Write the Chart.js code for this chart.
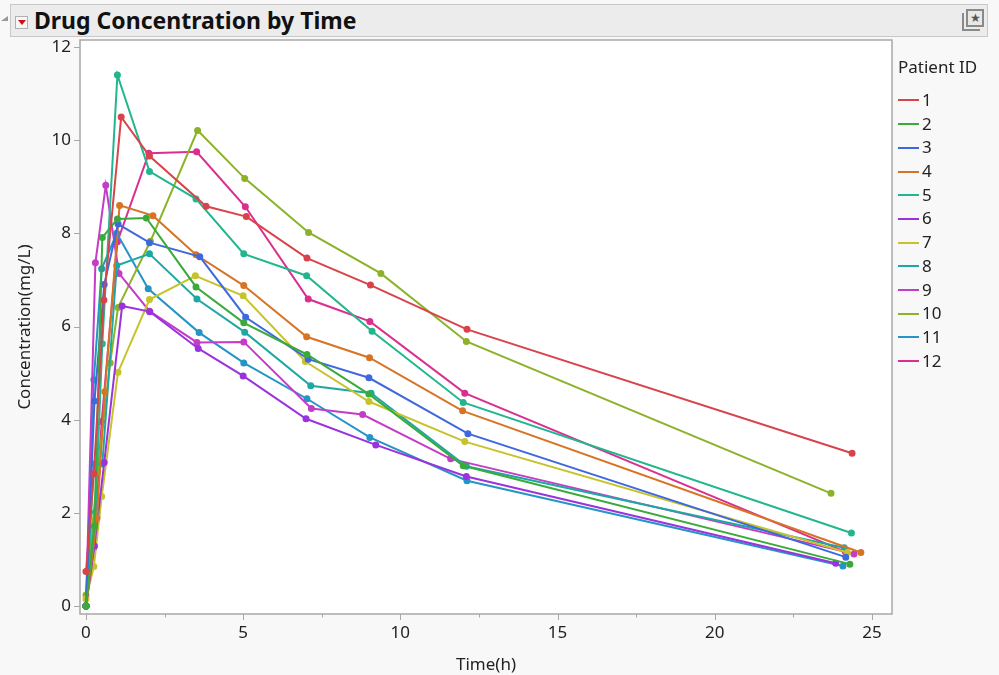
<!DOCTYPE html>
<html lang="en">
<head>
    <meta charset="UTF-8">
    <title>Drug Concentration by Time</title>
    <script src="https://cdn.jsdelivr.net/npm/chart.js"></script>
    <style>
        body {
            margin: 0;
            width: 999px;
            height: 675px;
            background-color: #f8f8f8;
            font-family: "Noto Sans", sans-serif;
            overflow: hidden;
            position: relative;
        }

        #title-bar {
            position: absolute;
            left: 10px;
            top: 4px;
            width: 978px;
            height: 33px;
            background-color: #ececec;
            border: 1px solid #c8c8c8;
            box-sizing: border-box;
        }

        #title-bar .arrow {
            position: absolute;
            left: 4px;
            top: 11px;
            width: 13px;
            height: 13px;
            background: #f6f6f6;
            border: 1px solid #b0b0b0;
            box-sizing: border-box;
        }

        #title-bar .arrow::after {
            content: "";
            position: absolute;
            left: 2px;
            top: 3px;
            border-left: 4px solid transparent;
            border-right: 4px solid transparent;
            border-top: 5px solid #d0101a;
        }

        #title-bar h1 {
            position: absolute;
            left: 23px;
            top: 0;
            margin: 0;
            font-size: 23px;
            line-height: 31px;
            font-weight: bold;
            color: #111;
        }

        #title-bar .star {
            position: absolute;
            right: 3px;
            top: 4px;
            width: 18px;
            height: 18px;
            border: 2px solid #8a8a8a;
            box-sizing: border-box;
            background: #e8e8e8;
            color: #555;
            font-size: 12px;
            line-height: 14px;
            text-align: center;
        }

        #title-bar .star-back {
            position: absolute;
            right: 7px;
            top: 8px;
            width: 18px;
            height: 18px;
            border-left: 2px solid #8a8a8a;
            border-bottom: 2px solid #8a8a8a;
            box-sizing: border-box;
        }

        .disclosure {
            position: absolute;
            left: 1px;
            top: 16px;
            border-top: 5px solid transparent;
            border-right: 7px solid #999;
        }

        #chart-wrap {
            position: absolute;
            left: 0;
            top: 0;
            width: 999px;
            height: 675px;
        }

        #legend {
            position: absolute;
            left: 898px;
            top: 54px;
            color: #222;
            font-size: 17px;
        }

        #legend .head {
            height: 26px;
            line-height: 26px;
            margin-bottom: 8px;
        }

        #legend .item {
            height: 23.7px;
            line-height: 23.7px;
            white-space: nowrap;
        }

        #legend .swatch {
            display: inline-block;
            width: 21px;
            height: 2px;
            vertical-align: middle;
            margin-right: 3px;
            position: relative;
            top: -1px;
        }
    </style>
</head>
<body>
    <div id="chart-wrap"><canvas id="conc-chart" width="999" height="675"></canvas></div>

    <div class="disclosure"></div>
    <div id="title-bar">
        <div class="arrow"></div>
        <h1>Drug Concentration by Time</h1>
        <div class="star-back"></div>
        <div class="star">★</div>
    </div>

    <div id="legend">
        <div class="head">Patient ID</div>
    </div>

    <script>
        // Patient IDs and their sampling data
        const patientIds = ["1", "2", "3", "4", "5", "6", "7", "8", "9", "10", "11", "12"];

        const times = [
            [0, 0.25, 0.57, 1.12, 2.02, 3.82, 5.10, 7.03, 9.05, 12.12, 24.37],
            [0, 0.27, 0.52, 1.00, 1.92, 3.50, 5.02, 7.03, 9.00, 12.00, 24.30],
            [0, 0.27, 0.58, 1.02, 2.02, 3.62, 5.08, 7.07, 9.00, 12.15, 24.17],
            [0, 0.35, 0.60, 1.07, 2.13, 3.50, 5.02, 7.02, 9.02, 11.98, 24.65],
            [0, 0.30, 0.52, 1.00, 2.02, 3.50, 5.02, 7.02, 9.10, 12.00, 24.35],
            [0, 0.27, 0.58, 1.15, 2.03, 3.57, 5.00, 7.00, 9.22, 12.10, 23.85],
            [0, 0.25, 0.50, 1.02, 2.02, 3.48, 5.00, 6.98, 9.00, 12.05, 24.22],
            [0, 0.25, 0.52, 0.98, 2.02, 3.53, 5.05, 7.15, 9.07, 12.10, 24.12],
            [0, 0.30, 0.63, 1.05, 2.02, 3.53, 5.02, 7.17, 8.80, 11.60, 24.43],
            [0, 0.37, 0.77, 1.02, 2.05, 3.55, 5.05, 7.08, 9.38, 12.10, 23.70],
            [0, 0.25, 0.50, 0.98, 1.98, 3.60, 5.02, 7.03, 9.03, 12.12, 24.08],
            [0, 0.25, 0.50, 1.00, 2.00, 3.52, 5.07, 7.07, 9.03, 12.05, 24.15]
        ];

        const concentrations = [
            [0.74, 2.84, 6.57, 10.50, 9.66, 8.58, 8.36, 7.47, 6.89, 5.94, 3.28],
            [0.00, 1.72, 7.91, 8.31, 8.33, 6.85, 6.08, 5.40, 4.55, 3.01, 0.90],
            [0.00, 4.40, 6.90, 8.20, 7.80, 7.50, 6.20, 5.30, 4.90, 3.70, 1.05],
            [0.00, 1.89, 4.60, 8.60, 8.38, 7.54, 6.88, 5.78, 5.33, 4.19, 1.15],
            [0.00, 2.02, 5.63, 11.40, 9.33, 8.74, 7.56, 7.09, 5.90, 4.37, 1.57],
            [0.00, 1.29, 3.08, 6.44, 6.32, 5.53, 4.94, 4.02, 3.46, 2.78, 0.92],
            [0.15, 0.85, 2.35, 5.02, 6.58, 7.09, 6.66, 5.25, 4.39, 3.53, 1.15],
            [0.00, 3.05, 3.05, 7.31, 7.56, 6.59, 5.88, 4.73, 4.57, 3.00, 1.25],
            [0.00, 7.37, 9.03, 7.14, 6.33, 5.66, 5.67, 4.24, 4.11, 3.16, 1.12],
            [0.24, 2.89, 5.22, 6.41, 7.83, 10.21, 9.18, 8.02, 7.14, 5.68, 2.42],
            [0.00, 4.86, 7.24, 8.00, 6.81, 5.87, 5.22, 4.45, 3.62, 2.69, 0.86],
            [0.00, 1.25, 3.96, 7.82, 9.72, 9.75, 8.57, 6.59, 6.11, 4.57, 1.17]
        ];

        const xTicks = [0, 5, 10, 15, 20, 25];
        const yTicks = [0, 2, 4, 6, 8, 10, 12];

        const colors = [
            "#d9434b", "#3aaa3a", "#3f68de", "#d77424", "#22b68e", "#9a33dc",
            "#c8c22c", "#1fa8a3", "#c43cc8", "#8bb229", "#2594c6", "#da2f90"
        ];

        // Plot box geometry (matches the reference frame)
        const box = { left: 80, top: 40, right: 892, bottom: 614 };

        // Plot frame, white background and tick marks
        const framePlugin = {
            id: "frame",
            beforeDraw(chart) {
                const { ctx } = chart;
                ctx.save();
                ctx.fillStyle = "#ffffff";
                ctx.fillRect(box.left, box.top, box.right - box.left, box.bottom - box.top);
                ctx.restore();
            },
            afterDraw(chart) {
                const { ctx } = chart;
                const xs = chart.scales.x;
                const ys = chart.scales.y;
                ctx.save();
                ctx.strokeStyle = "#a8a8a8";
                ctx.lineWidth = 1.5;
                ctx.strokeRect(box.left, box.top, box.right - box.left, box.bottom - box.top);
                ctx.lineWidth = 1;
                ctx.beginPath();
                xs.ticks.forEach(t => {
                    const px = Math.round(xs.getPixelForValue(t.value)) + 0.5;
                    const len = t.value % 5 === 0 ? 6 : 3.5;
                    ctx.moveTo(px, box.bottom);
                    ctx.lineTo(px, box.bottom + len);
                });
                ys.ticks.forEach(t => {
                    const py = Math.round(ys.getPixelForValue(t.value)) + 0.5;
                    ctx.moveTo(box.left, py);
                    ctx.lineTo(box.left - 6, py);
                });
                ctx.stroke();
                ctx.restore();
            }
        };

        const datasets = patientIds.map((id, i) => ({
            label: id,
            data: times[i].map((t, j) => ({ x: t, y: concentrations[i][j] })),
            borderColor: colors[i],
            backgroundColor: colors[i],
            borderWidth: 2,
            pointRadius: 2.5,
            pointHoverRadius: 2.5,
            tension: 0
        }));

        new Chart(document.getElementById("conc-chart"), {
            type: "line",
            data: { datasets },
            plugins: [framePlugin],
            options: {
                responsive: false,
                animation: false,
                layout: {
                    padding: { left: 0, top: box.top, right: 999 - box.right, bottom: 0 }
                },
                plugins: {
                    legend: { display: false },
                    tooltip: { enabled: false }
                },
                scales: {
                    x: {
                        type: "linear",
                        min: -0.19,
                        max: 25.64,
                        afterFit(scale) { scale.height = 675 - box.bottom; },
                        ticks: {
                            stepSize: 2.5,
                            includeBounds: false,
                            autoSkip: false,
                            maxRotation: 0,
                            padding: 9,
                            color: "#222",
                            font: { family: "Noto Sans", size: 17 },
                            callback: v => (xTicks.includes(v) ? v : "")
                        },
                        grid: { display: false, drawTicks: false },
                        border: { display: false },
                        title: {
                            display: true,
                            text: "Time(h)",
                            color: "#222",
                            font: { family: "Noto Sans", size: 17 },
                            padding: { top: 0, bottom: 0 }
                        }
                    },
                    y: {
                        type: "linear",
                        min: -0.17,
                        max: 12.15,
                        afterFit(scale) { scale.width = box.left; },
                        ticks: {
                            stepSize: 2,
                            includeBounds: false,
                            autoSkip: false,
                            padding: 9,
                            color: "#222",
                            font: { family: "Noto Sans", size: 17 },
                            callback: v => (yTicks.includes(v) ? v : "")
                        },
                        grid: { display: false, drawTicks: false },
                        border: { display: false },
                        title: {
                            display: true,
                            text: "Concentration(mg/L)",
                            color: "#222",
                            font: { family: "Noto Sans", size: 17 },
                            padding: { top: 15, bottom: 0 }
                        }
                    }
                }
            }
        });

        // Build the legend from the same arrays
        const legend = document.getElementById("legend");
        patientIds.forEach((id, i) => {
            const item = document.createElement("div");
            item.className = "item";
            const sw = document.createElement("span");
            sw.className = "swatch";
            sw.style.backgroundColor = colors[i];
            item.appendChild(sw);
            item.appendChild(document.createTextNode(id));
            legend.appendChild(item);
        });
    </script>
</body>
</html>
